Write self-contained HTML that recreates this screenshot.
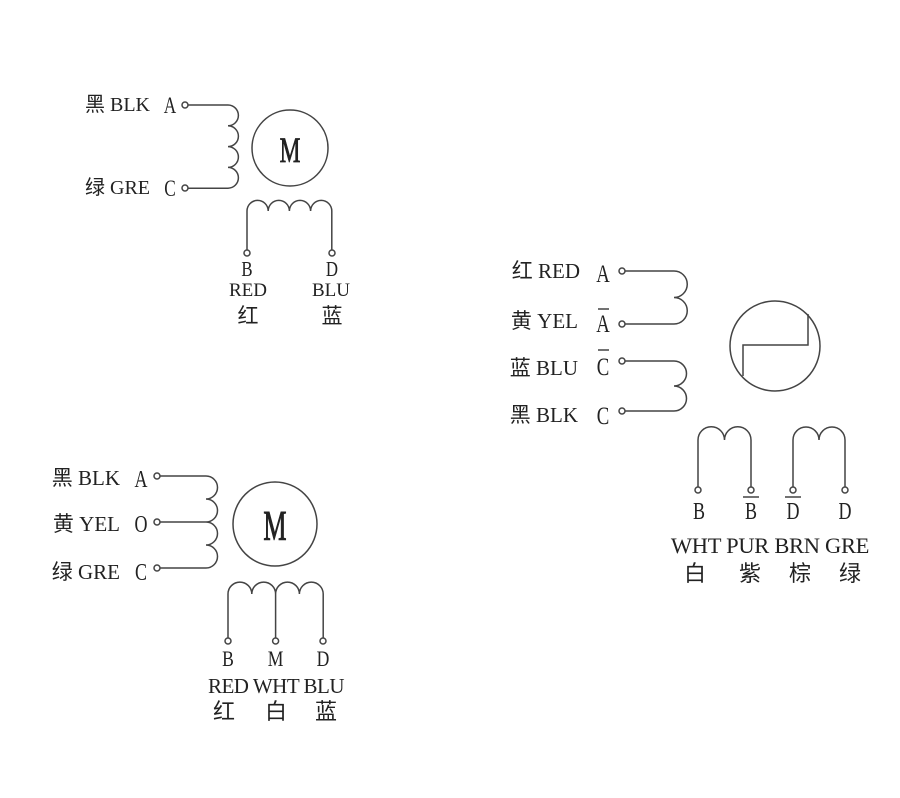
<!DOCTYPE html>
<html><head><meta charset="utf-8"><style>
html,body{margin:0;padding:0;background:#fff;}
svg{display:block}
text{font-family:"Liberation Serif","Noto Serif CJK SC",serif;fill:#222;}
.cj{font-family:"Liberation Serif","Noto Sans CJK SC",sans-serif;}
</style></head><body>
<svg width="900" height="798" viewBox="0 0 900 798" xmlns="http://www.w3.org/2000/svg">
<g fill="none" stroke="#444" stroke-width="1.5">
<!-- Diagram 1 -->
<path d="M188 105 H228 a10.4 10.4 0 0 1 0 20.8 a10.4 10.4 0 0 1 0 20.8 a10.4 10.4 0 0 1 0 20.8 a10.4 10.4 0 0 1 0 20.8 H188"/>
<circle cx="185" cy="105" r="3"/><circle cx="185" cy="188" r="3"/>
<circle cx="290" cy="148" r="38"/>
<path d="M247 250 V211 a10.6 10.6 0 0 1 21.2 0 a10.6 10.6 0 0 1 21.2 0 a10.6 10.6 0 0 1 21.2 0 a10.6 10.6 0 0 1 21.2 0 V250"/>
<circle cx="247" cy="253" r="3"/><circle cx="332" cy="253" r="3"/>
<!-- Diagram 3 -->
<path d="M160 476 H206 a11.5 11.5 0 0 1 0 23 a11.5 11.5 0 0 1 0 23 a11.5 11.5 0 0 1 0 23 a11.5 11.5 0 0 1 0 23 H160 M160 522 H206"/>
<circle cx="157" cy="476" r="3"/><circle cx="157" cy="522" r="3"/><circle cx="157" cy="568" r="3"/>
<circle cx="275" cy="524" r="42"/>
<path d="M228 638 V594 a11.9 11.9 0 0 1 23.8 0 a11.9 11.9 0 0 1 23.8 0 a11.9 11.9 0 0 1 23.8 0 a11.9 11.9 0 0 1 23.8 0 V638 M275.6 594 V638"/>
<circle cx="228" cy="641" r="3"/><circle cx="275.6" cy="641" r="3"/><circle cx="323" cy="641" r="3"/>
<!-- Diagram 2 -->
<path d="M625 271 H674 a13.25 13.25 0 0 1 0 26.5 a13.25 13.25 0 0 1 0 26.5 H625"/>
<path d="M625 361 H674 a12.5 12.5 0 0 1 0 25 a12.5 12.5 0 0 1 0 25 H625"/>
<circle cx="622" cy="271" r="3"/><circle cx="622" cy="324" r="3"/><circle cx="622" cy="361" r="3"/><circle cx="622" cy="411" r="3"/>
<circle cx="775" cy="346" r="45"/>
<path d="M743 376 V345 H808 V314"/>
<path d="M698 487 V440 a13.25 13.25 0 0 1 26.5 0 a13.25 13.25 0 0 1 26.5 0 V487"/>
<path d="M793 487 V440 a13 13 0 0 1 26 0 a13 13 0 0 1 26 0 V487"/>
<circle cx="698" cy="490" r="3"/><circle cx="751" cy="490" r="3"/><circle cx="793" cy="490" r="3"/><circle cx="845" cy="490" r="3"/>
<path d="M743 497 H759 M785 497 H801"/>
<path d="M598 309 H609 M598 350 H609"/>
</g>
<g font-size="17">
<!-- Diagram 1 labels -->
<text x="150" y="111" text-anchor="end" class="cj" font-size="20">黑 BLK</text>
<text x="170" y="113" text-anchor="middle" transform="translate(170 0) scale(0.75 1) translate(-170 0)" font-size="23">A</text>
<text x="150" y="194" text-anchor="end" class="cj" font-size="20">绿 GRE</text>
<text x="170" y="196" text-anchor="middle" transform="translate(170 0) scale(0.75 1) translate(-170 0)" font-size="23">C</text>
<text x="290" y="162" text-anchor="middle" font-size="36" stroke="#222" stroke-width="0.8" transform="translate(290 0) scale(0.65 1) translate(-290 0)">M</text>
<text x="247" y="276" text-anchor="middle" font-size="21" transform="translate(247 0) scale(0.8 1) translate(-247 0)">B</text>
<text x="332" y="276" text-anchor="middle" font-size="21" transform="translate(332 0) scale(0.8 1) translate(-332 0)">D</text>
<text x="248" y="296" text-anchor="middle" font-size="19">RED</text>
<text x="331" y="296" text-anchor="middle" font-size="19">BLU</text>
<text x="248" y="323" text-anchor="middle" class="cj" font-size="21">红</text>
<text x="332" y="323" text-anchor="middle" class="cj" font-size="21">蓝</text>
<!-- Diagram 3 labels -->
<text x="120" y="485" text-anchor="end" class="cj" font-size="21">黑 BLK</text>
<text x="141" y="487" text-anchor="middle" font-size="24" transform="translate(141 0) scale(0.75 1) translate(-141 0)">A</text>
<text x="120" y="531" text-anchor="end" class="cj" font-size="21">黄 YEL</text>
<text x="141" y="532" text-anchor="middle" font-size="24" transform="translate(141 0) scale(0.75 1) translate(-141 0)">O</text>
<text x="120" y="579" text-anchor="end" class="cj" font-size="21">绿 GRE</text>
<text x="141" y="580" text-anchor="middle" font-size="24" transform="translate(141 0) scale(0.75 1) translate(-141 0)">C</text>
<text x="275" y="540" text-anchor="middle" font-size="42" stroke="#222" stroke-width="0.9" transform="translate(275 0) scale(0.62 1) translate(-275 0)">M</text>
<text x="228" y="666" text-anchor="middle" font-size="22" transform="translate(228 0) scale(0.8 1) translate(-228 0)">B</text>
<text x="275.6" y="666" text-anchor="middle" font-size="22" transform="translate(275.6 0) scale(0.8 1) translate(-275.6 0)">M</text>
<text x="323" y="666" text-anchor="middle" font-size="22" transform="translate(323 0) scale(0.8 1) translate(-323 0)">D</text>
<text x="276" y="693" text-anchor="middle" font-size="21" letter-spacing="-0.5">RED WHT BLU</text>
<text x="224" y="719" text-anchor="middle" class="cj" font-size="22">红</text>
<text x="276" y="719" text-anchor="middle" class="cj" font-size="22">白</text>
<text x="326" y="719" text-anchor="middle" class="cj" font-size="22">蓝</text>
<!-- Diagram 2 labels -->
<text x="580" y="278" text-anchor="end" class="cj" font-size="21">红 RED</text>
<text x="603" y="282" text-anchor="middle" font-size="25" transform="translate(603 0) scale(0.75 1) translate(-603 0)">A</text>
<text x="578" y="328" text-anchor="end" class="cj" font-size="21">黄 YEL</text>
<text x="603" y="332" text-anchor="middle" font-size="25" transform="translate(603 0) scale(0.75 1) translate(-603 0)">A</text>
<text x="578" y="375" text-anchor="end" class="cj" font-size="21">蓝 BLU</text>
<text x="603" y="375" text-anchor="middle" font-size="25" transform="translate(603 0) scale(0.75 1) translate(-603 0)">C</text>
<text x="578" y="422" text-anchor="end" class="cj" font-size="21">黑 BLK</text>
<text x="603" y="424" text-anchor="middle" font-size="25" transform="translate(603 0) scale(0.75 1) translate(-603 0)">C</text>
<text x="699" y="519" text-anchor="middle" font-size="24" transform="translate(699 0) scale(0.75 1) translate(-699 0)">B</text>
<text x="751" y="519" text-anchor="middle" font-size="24" transform="translate(751 0) scale(0.75 1) translate(-751 0)">B</text>
<text x="793" y="519" text-anchor="middle" font-size="24" transform="translate(793 0) scale(0.75 1) translate(-793 0)">D</text>
<text x="845" y="519" text-anchor="middle" font-size="24" transform="translate(845 0) scale(0.75 1) translate(-845 0)">D</text>
<text x="770" y="553" text-anchor="middle" font-size="22.5" letter-spacing="-0.3">WHT PUR BRN GRE</text>
<text x="695" y="581" text-anchor="middle" class="cj" font-size="22">白</text>
<text x="750" y="581" text-anchor="middle" class="cj" font-size="22">紫</text>
<text x="800" y="581" text-anchor="middle" class="cj" font-size="22">棕</text>
<text x="850" y="581" text-anchor="middle" class="cj" font-size="22">绿</text>
</g>
</svg>
</body></html>
